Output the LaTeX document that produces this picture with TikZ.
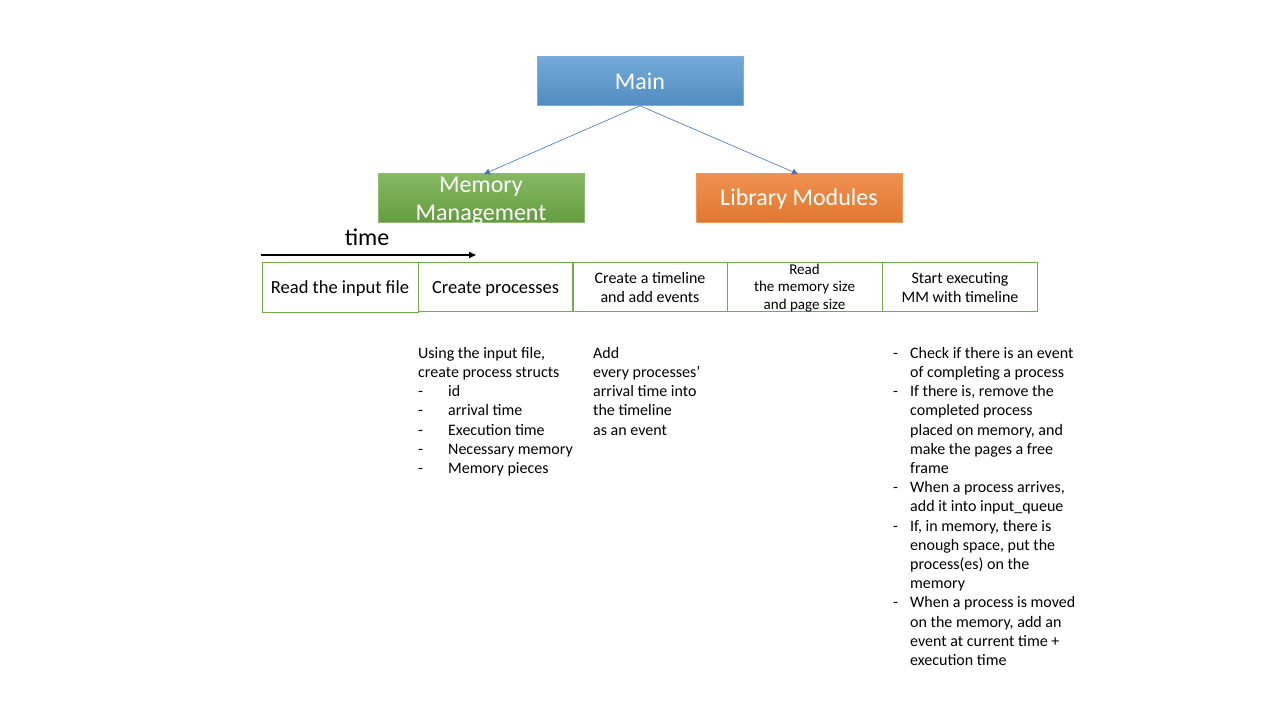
\documentclass[tikz,border=0pt]{standalone}
\usepackage{fontspec}
\setmainfont{Carlito}
\usetikzlibrary{arrows.meta}
\definecolor{mainblue}{HTML}{5B9BD5}
\definecolor{mgreen}{HTML}{70AD47}
\definecolor{morange}{HTML}{ED7D31}
\definecolor{linkblue}{HTML}{4472C4}
\newcommand{\dl}{\makebox[17pt][l]{-}}
\newcommand{\nd}{\hspace*{17pt}}
\newcommand{\dm}{\makebox[30pt][l]{-}}
\begin{document}
\begin{tikzpicture}[x=1pt,y=-1pt,
  topbox/.style={draw=#1!80!white, minimum width=206pt, minimum height=49pt, inner sep=0pt, text=white, align=center, line width=0.6pt},
  rowbox/.style={draw=mgreen, minimum width=155pt, minimum height=49pt, inner sep=0pt, align=center, line width=0.8pt},
  rowtext/.style={inner sep=0pt, align=center},
  link/.style={draw=linkblue, line width=0.6pt, -{Triangle[length=6pt,width=6pt]}},
  note/.style={anchor=north west, inner sep=0pt, align=left, font=\fontsize{16}{19.2}\selectfont}
]
\useasboundingbox (0,0) rectangle (1280,720);
\fill[white] (0,0) rectangle (1280,720);

\node[topbox=mainblue, top color=mainblue!85!white, bottom color=mainblue!90!black] (main) at (640,81) {};
\node[text=white, font=\fontsize{24}{28}\selectfont] (maintext) at (640,81.5) {Main};
\node[topbox=mgreen, top color=mgreen!85!white, bottom color=mgreen!90!black] (mm) at (481,198) {};
\node[text=white, align=center, font=\fontsize{24}{28}\selectfont] (mmtext) at (481,201) {Memory\\Management};
\node[topbox=morange, top color=morange!85!white, bottom color=morange!95!black] (lib) at (799,198) {};
\node[text=white, font=\fontsize{24}{28}\selectfont] (libtext) at (799,199.5) {Library Modules};

\coordinate (mmtop) at (484,174);
\coordinate (libtop) at (798,174);
\draw[link] (main.south) -- (mmtop);
\draw[link] (main.south) -- (libtop);

\coordinate (t0) at (261,255);
\coordinate (t1) at (476,255);
\draw[line width=1.6pt, -{Triangle[length=7pt,width=6pt]}] (t0) -- (t1);
\node[font=\fontsize{24}{28}\selectfont] (time) at (367,237) {time};

\node[rowbox, minimum width=156pt, minimum height=50pt] (r1) at (340,287) {};
\node[rowbox] (r2) at (495.5,286.5) {};
\node[rowbox] (r3) at (650,286.5) {};
\node[rowbox] (r4) at (804.5,286.5) {};
\node[rowbox] (r5) at (960,286.5) {};
\node[rowtext, font=\fontsize{18.5}{22}\selectfont] (r1t) at (340,289) {Read the input file};
\node[rowtext, font=\fontsize{18.5}{22}\selectfont] (r2t) at (495.5,289) {Create processes};
\node[rowtext, font=\fontsize{16}{19}\selectfont] (r3t) at (650,288) {Create a timeline\\and add events};
\node[rowtext, font=\fontsize{15}{17.5}\selectfont] (r4t) at (804.5,288) {Read\\the memory size\\and page size};
\node[rowtext, font=\fontsize{16}{19}\selectfont] (r5t) at (960,288) {Start executing\\MM with timeline};

\node[note] (n1) at (418,347) {Using the input file,\\create process structs\\\dm id\\\dm arrival time\\\dm Execution time\\\dm Necessary memory\\\dm Memory pieces};
\node[note] (n2) at (593,347) {Add\\every processes'\\arrival time into\\the timeline\\as an event};
\node[note] (n3) at (893,347) {\dl Check if there is an event\\\nd of completing a process\\\dl If there is, remove the\\\nd completed process\\\nd placed on memory, and\\\nd make the pages a free\\\nd frame\\\dl When a process arrives,\\\nd add it into input\_queue\\\dl If, in memory, there is\\\nd enough space, put the\\\nd process(es) on the\\\nd memory\\\dl When a process is moved\\\nd on the memory, add an\\\nd event at current time +\\\nd execution time};
\end{tikzpicture}
\end{document}
